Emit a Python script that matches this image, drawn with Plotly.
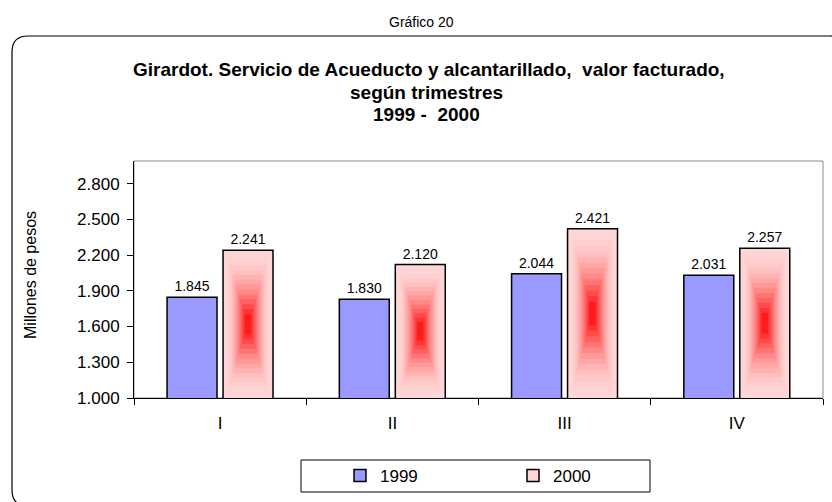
import plotly.graph_objects as go

# ---- data ----
trimestres = ["I", "II", "III", "IV"]
valores_1999 = [1845, 1830, 2044, 2031]
valores_2000 = [2241, 2120, 2421, 2257]
series_names = ["1999", "2000"]
y_ticks = [1000, 1300, 1600, 1900, 2200, 2500, 2800]

# ---- layout geometry (pixels) ----
W, H = 832, 502
L, R, T, B = 134, 9, 161, 104
PW, PH = W - L - R, H - T - B
Y0, Y1 = 1000, 2990


def px(x):
    return (x - L) / PW


def py(y):
    return (H - B - y) / PH


FONT = "Liberation Sans, Arial, sans-serif"
BAR_W = 0.29
OFF_1999 = -0.308
OFF_2000 = 0.017

fig = go.Figure()

fig.add_trace(go.Bar(
    x=trimestres, y=valores_1999, name=series_names[0],
    offset=OFF_1999, width=BAR_W,
    marker=dict(color="#9999FF", line=dict(color="#000000", width=1.5)),
    texttemplate="%{y:,.0f}", textposition="outside",
    textfont=dict(family=FONT, size=14, color="#000000"),
    cliponaxis=False,
))

fig.add_trace(go.Bar(
    x=trimestres, y=valores_2000, name=series_names[1],
    offset=OFF_2000, width=BAR_W,
    marker=dict(color="#FFD6D6", line=dict(color="#000000", width=1.5)),
    texttemplate="%{y:,.0f}", textposition="outside",
    textfont=dict(family=FONT, size=14, color="#000000"),
    cliponaxis=False,
))

# rectangular gradient (pink edges -> red centre) inside the 2000 bars
N = 14
pink = (255, 214, 214)
red = (255, 0, 0)
for k in range(1, N):
    t = k / N * 0.93
    s = (k / N) ** 1.8
    col = tuple(round(pink[i] + (red[i] - pink[i]) * s) for i in range(3))
    bases, heights = [], []
    for v in valores_2000:
        c = (v + Y0) / 2
        h = (v - Y0) / 2 * (1 - t)
        bases.append(c - h)
        heights.append(2 * h)
    inset = 0.012
    w = (BAR_W - 2 * inset) * (1 - t)
    fig.add_trace(go.Bar(
        x=trimestres, y=heights, base=bases,
        offset=OFF_2000 + BAR_W / 2 - w / 2, width=w,
        marker=dict(color="rgb(%d,%d,%d)" % col, line=dict(width=0)),
        showlegend=False, hoverinfo="skip",
    ))

# rounded outer frame
x0, x1, y0, y1, r = 12, 846, 36, 506, 16
path = (
    f"M {px(x0 + r)},{py(y0)} L {px(x1 - r)},{py(y0)} "
    f"Q {px(x1)},{py(y0)} {px(x1)},{py(y0 + r)} "
    f"L {px(x1)},{py(y1 - r)} Q {px(x1)},{py(y1)} {px(x1 - r)},{py(y1)} "
    f"L {px(x0 + r)},{py(y1)} Q {px(x0)},{py(y1)} {px(x0)},{py(y1 - r)} "
    f"L {px(x0)},{py(y0 + r)} Q {px(x0)},{py(y0)} {px(x0 + r)},{py(y0)} Z"
)
shapes = [
    dict(type="path", xref="paper", yref="paper", path=path,
         line=dict(color="#000000", width=1.2), layer="below"),
    # plot-area frame (grey top/right)
    dict(type="rect", xref="paper", yref="paper", x0=0, x1=1, y0=0, y1=1,
         line=dict(color="#8C8C8C", width=1), layer="below"),
    # legend box
    dict(type="rect", xref="paper", yref="paper",
         x0=px(301), x1=px(650), y0=py(460), y1=py(492),
         line=dict(color="#000000", width=1)),
]

TITLE_FONT = dict(family=FONT, size=19, color="#000000")
annotations = [
    dict(text="Gráfico 20", xref="paper", yref="paper", x=px(421), y=py(22),
         xanchor="center", yanchor="middle", showarrow=False,
         font=dict(family=FONT, size=14, color="#000000")),
    dict(text="<b>Girardot. Servicio de Acueducto y alcantarillado,  valor facturado,</b>",
         xref="paper", yref="paper", x=px(429), y=py(69),
         xanchor="center", yanchor="middle", showarrow=False, font=TITLE_FONT),
    dict(text="<b>según trimestres</b>",
         xref="paper", yref="paper", x=px(426), y=py(92),
         xanchor="center", yanchor="middle", showarrow=False, font=TITLE_FONT),
    dict(text="<b>1999 -  2000</b>",
         xref="paper", yref="paper", x=px(426), y=py(114),
         xanchor="center", yanchor="middle", showarrow=False, font=TITLE_FONT),
    dict(text="Millones de pesos", xref="paper", yref="paper",
         x=px(30), y=py(275), textangle=-90,
         xanchor="center", yanchor="middle", showarrow=False,
         font=dict(family=FONT, size=16, color="#000000")),
]

fig.update_layout(
    width=W, height=H,
    margin=dict(l=L, r=R, t=T, b=B, autoexpand=False),
    paper_bgcolor="#FFFFFF", plot_bgcolor="#FFFFFF",
    barmode="overlay",
    separators=",.",
    font=dict(family=FONT, size=15, color="#000000"),
    showlegend=True,
    legend=dict(
        orientation="h", x=px(340), y=py(476), xanchor="left", yanchor="middle",
        entrywidth=128, entrywidthmode="pixels",
        font=dict(family=FONT, size=17, color="#000000"),
        bgcolor="rgba(0,0,0,0)", borderwidth=0,
        itemclick=False, itemdoubleclick=False,
    ),
    shapes=shapes,
    annotations=annotations,
)

fig.update_xaxes(
    type="category", categoryorder="array", categoryarray=trimestres,
    showline=True, linecolor="#000000", linewidth=1,
    ticks="outside", tickson="boundaries", ticklen=6, tickcolor="#000000",
    tickfont=dict(family=FONT, size=17, color="#000000"),
    ticklabelstandoff=10,
    showgrid=False, zeroline=False,
)
fig.update_yaxes(
    range=[Y0, Y1], tickvals=y_ticks,
    tickformat=",.0f",
    showline=True, linecolor="#000000", linewidth=1,
    ticks="outside", ticklen=6, tickcolor="#000000",
    tickfont=dict(family=FONT, size=17, color="#000000"),
    ticklabelstandoff=4,
    showgrid=False, zeroline=False,
)

fig.write_html("out.html", config={"displayModeBar": False},
               post_script="document.body.style.margin='0px';")
